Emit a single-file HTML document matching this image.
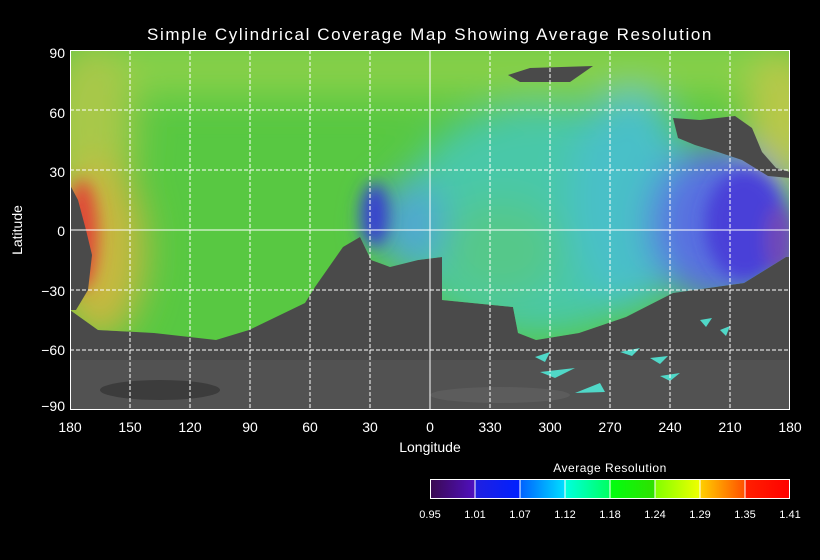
<!DOCTYPE html>
<html><head><meta charset="utf-8"><style>
html,body{margin:0;padding:0;background:#000;}
svg{display:block;font-family:"Liberation Sans",sans-serif;}
</style></head><body>
<svg width="820" height="560" viewBox="0 0 820 560" xmlns="http://www.w3.org/2000/svg">
<defs>
<filter id="b" x="-50%" y="-50%" width="200%" height="200%"><feGaussianBlur stdDeviation="18"/></filter>
<filter id="b2" x="-50%" y="-50%" width="200%" height="200%"><feGaussianBlur stdDeviation="8"/></filter>
<clipPath id="cov"><polygon points="70,50 790,50 790,257 786,257 744,283 673,293 626,317 579,333 536,340 518,333 513,307 442,300 442,257 418,260 390,267 371,260 360,237 343,247 315,287 305,303 249,330 216,340 154,333 98,330 70,310"/></clipPath>
<clipPath id="plot"><rect x="70" y="50" width="720" height="360"/></clipPath>
<linearGradient id="cb0" x1="0" x2="1"><stop offset="0" stop-color="#3a0a50"/><stop offset="1" stop-color="#5010c0"/></linearGradient>
<linearGradient id="cb1" x1="0" x2="1"><stop offset="0" stop-color="#2020e0"/><stop offset="1" stop-color="#0020ff"/></linearGradient>
<linearGradient id="cb2" x1="0" x2="1"><stop offset="0" stop-color="#0060ff"/><stop offset="1" stop-color="#00e0ff"/></linearGradient>
<linearGradient id="cb3" x1="0" x2="1"><stop offset="0" stop-color="#00ffe0"/><stop offset="1" stop-color="#00ff60"/></linearGradient>
<linearGradient id="cb4" x1="0" x2="1"><stop offset="0" stop-color="#00ff10"/><stop offset="1" stop-color="#30e000"/></linearGradient>
<linearGradient id="cb5" x1="0" x2="1"><stop offset="0" stop-color="#80ff00"/><stop offset="1" stop-color="#f0ff00"/></linearGradient>
<linearGradient id="cb6" x1="0" x2="1"><stop offset="0" stop-color="#ffd000"/><stop offset="1" stop-color="#ff5000"/></linearGradient>
<linearGradient id="cb7" x1="0" x2="1"><stop offset="0" stop-color="#ff2000"/><stop offset="1" stop-color="#ff0000"/></linearGradient>
</defs>
<text x="430" y="40" fill="#fff" font-size="17" text-anchor="middle" letter-spacing="1.6">Simple Cylindrical Coverage Map Showing Average Resolution</text>
<g clip-path="url(#plot)">
<rect x="70" y="50" width="720" height="360" fill="#4a4a4a"/>
<rect x="70" y="360" width="720" height="50" fill="#525252"/>
<ellipse cx="160" cy="390" rx="60" ry="10" fill="#3c3c3c"/>
<ellipse cx="500" cy="395" rx="70" ry="8" fill="#5c5c5c"/>
<g clip-path="url(#cov)">
<rect x="70" y="50" width="720" height="300" fill="#58c842"/>
<g filter="url(#b)">
<rect x="70" y="40" width="720" height="55" fill="#88d048"/>
<ellipse cx="90" cy="130" rx="45" ry="90" fill="#a8c848"/>
<ellipse cx="100" cy="250" rx="45" ry="90" fill="#c8b840"/>
<ellipse cx="785" cy="120" rx="40" ry="70" fill="#b8c848"/>
<ellipse cx="540" cy="220" rx="140" ry="115" fill="#48c8a8"/>
<ellipse cx="500" cy="250" rx="60" ry="50" fill="#55c88a"/>
<ellipse cx="630" cy="200" rx="60" ry="110" fill="#48c0c8"/>
<ellipse cx="720" cy="225" rx="70" ry="80" fill="#5870e0"/>
<ellipse cx="410" cy="225" rx="35" ry="45" fill="#50a8d0"/>
</g>
<g filter="url(#b2)">
<ellipse cx="82" cy="235" rx="16" ry="55" fill="#e04838"/>
<ellipse cx="745" cy="225" rx="40" ry="55" fill="#4a40d8"/>
<ellipse cx="780" cy="240" rx="15" ry="35" fill="#7048b8"/>
<ellipse cx="375" cy="215" rx="14" ry="32" fill="#3840d0"/>
</g>
</g>
<polygon points="70,185 78,200 86,230 92,255 88,290 76,310 70,310" fill="#4a4a4a"/>
<polygon points="508,75 530,68 593,66 570,82 520,82" fill="#4a4a4a"/>
<polygon points="673,118 700,120 735,116 752,128 762,152 776,168 790,172 790,178 768,176 742,160 718,152 695,145 678,138" fill="#4a4a4a"/>
<g fill="#50d8c8">
<polygon points="535,357 550,352 545,362"/><polygon points="540,372 575,368 555,378"/>
<polygon points="575,393 600,383 605,392"/><polygon points="650,358 668,356 660,364"/>
<polygon points="660,376 680,373 670,381"/><polygon points="620,352 640,348 632,356"/>
<polygon points="700,320 712,318 706,327"/><polygon points="720,330 730,326 726,336"/>
</g>
</g>
<g stroke="#fff" stroke-width="1" stroke-dasharray="4,2" fill="none">
<path d="M130 50V410M190 50V410M250 50V410M310 50V410M370 50V410M490 50V410M550 50V410M610 50V410M670 50V410M730 50V410"/>
<path d="M70 110H790M70 170H790M70 290H790M70 350H790"/>
</g>
<path d="M430 50V410M70 230H790" stroke="#fff" stroke-width="1"/>
<rect x="70.5" y="50.5" width="719" height="359" fill="none" stroke="#fff" stroke-width="1"/>
<g fill="#fff" font-size="14" text-anchor="end">
<text x="65" y="58">90</text><text x="65" y="118">60</text><text x="65" y="177">30</text>
<text x="65" y="236">0</text><text x="65" y="296">−30</text><text x="65" y="355">−60</text><text x="65" y="411">−90</text>
</g>
<g fill="#fff" font-size="14" text-anchor="middle">
<text x="70" y="432">180</text><text x="130" y="432">150</text><text x="190" y="432">120</text><text x="250" y="432">90</text>
<text x="310" y="432">60</text><text x="370" y="432">30</text><text x="430" y="432">0</text><text x="490" y="432">330</text>
<text x="550" y="432">300</text><text x="610" y="432">270</text><text x="670" y="432">240</text><text x="730" y="432">210</text><text x="790" y="432">180</text>
<text x="430" y="452">Longitude</text>
<text transform="translate(22,230) rotate(-90)">Latitude</text>
<text x="610" y="472" font-size="12" letter-spacing="0.5">Average Resolution</text>
</g>
<rect x="430" y="479" width="45" height="20" fill="url(#cb0)"/>
<rect x="475" y="479" width="45" height="20" fill="url(#cb1)"/>
<rect x="520" y="479" width="45" height="20" fill="url(#cb2)"/>
<rect x="565" y="479" width="45" height="20" fill="url(#cb3)"/>
<rect x="610" y="479" width="45" height="20" fill="url(#cb4)"/>
<rect x="655" y="479" width="45" height="20" fill="url(#cb5)"/>
<rect x="700" y="479" width="45" height="20" fill="url(#cb6)"/>
<rect x="745" y="479" width="45" height="20" fill="url(#cb7)"/>
<path d="M475 479V499M520 479V499M565 479V499M610 479V499M655 479V499M700 479V499M745 479V499" stroke="#fff"/>
<rect x="430.5" y="479.5" width="359" height="19" fill="none" stroke="#fff"/>
<g fill="#fff" font-size="11" text-anchor="middle">
<text x="430" y="518">0.95</text><text x="475" y="518">1.01</text><text x="520" y="518">1.07</text>
<text x="565" y="518">1.12</text><text x="610" y="518">1.18</text><text x="655" y="518">1.24</text>
<text x="700" y="518">1.29</text><text x="745" y="518">1.35</text><text x="790" y="518">1.41</text>
</g>
</svg>
</body></html>
